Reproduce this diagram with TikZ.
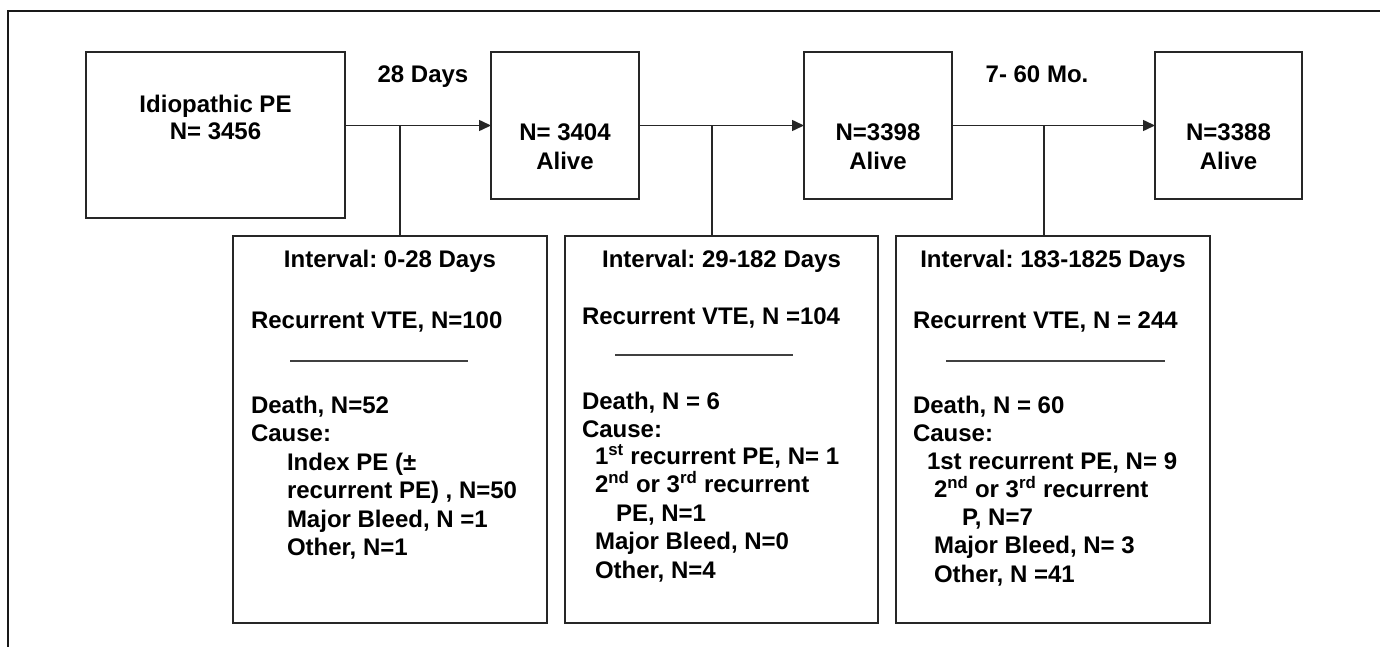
\documentclass[tikz,border=0pt]{standalone}
\usepackage{fontspec}
\setmainfont{Liberation Sans}
\usetikzlibrary{arrows.meta}
\begin{document}
\begin{tikzpicture}[x=1bp,y=-1bp,
  box/.style={draw=black!85,line width=1.6bp,inner sep=0,outer sep=0,minimum width=#1},
  conn/.style={draw=black!85,line width=1.5bp},
  arr/.style={conn,-{Triangle[length=12bp,width=11bp]}},
  txt/.style={inner sep=0,outer sep=0,anchor=base,font=\fontsize{24bp}{28bp}\selectfont\bfseries\frenchspacing},
  ltxt/.style={txt,anchor=base west},
  rulel/.style={draw=black!75,line width=1.8bp}]
\useasboundingbox (0,0) rectangle (1380,647);
% outer frame (only top and left visible)
\draw[line width=2bp,black!90] (1380,11.5) -- (8,11.5) -- (8,647);
% top boxes
\node[box=259bp,minimum height=166bp] (b1) at (215.5,135) {};
\node[box=148bp,minimum height=147bp] (b2) at (565,125.5) {};
\node[box=148bp,minimum height=147bp] (b3) at (878,125.5) {};
\node[box=147bp,minimum height=147bp] (b4) at (1228.5,125.5) {};
% lower boxes
\node[box=314bp,minimum height=387bp] (l1) at (390,429.5) {};
\node[box=313bp,minimum height=387bp] (l2) at (721.5,429.5) {};
\node[box=314bp,minimum height=387bp] (l3) at (1053,429.5) {};
% top texts
\node[txt] (b1a) at (215.5,113) {Idiopathic PE};
\node[txt] (b1b) at (215.5,140) {N= 3456};
\node[txt] (b2a) at (565,141) {N= 3404};
\node[txt] (b2b) at (565,170) {Alive};
\node[txt] (b3a) at (878,141) {N=3398};
\node[txt] (b3b) at (878,170) {Alive};
\node[txt] (b4a) at (1228.5,141) {N=3388};
\node[txt] (b4b) at (1228.5,170) {Alive};
\node[txt] (lab1) at (423,83) {28 Days};
\node[txt] (lab2) at (1037,83) {7- 60 Mo.};
% connectors
\coordinate (j1) at (400,125.5);
\coordinate (j2) at (712,125.5);
\coordinate (j3) at (1044,125.5);
\draw[arr] (b2.west -| b1.east) -- (b2.west);
\draw[arr] (b2.east) -- (b3.west);
\draw[arr] (b3.east) -- (b4.west);
\draw[conn] (j1) -- (j1 |- l1.north);
\draw[conn] (j2) -- (j2 |- l2.north);
\draw[conn] (j3) -- (j3 |- l3.north);
% lower box 1
\node[txt] (l1t) at (390,267) {Interval: 0-28 Days};
\node[ltxt] (l1a) at (251,328) {Recurrent VTE, N=100};
\draw[rulel] (290,361) -- (468,361);
\node[ltxt] (l1b) at (251,413) {Death, N=52};
\node[ltxt] (l1c) at (251,441) {Cause:};
\node[ltxt] (l1d) at (287,470) {Index PE (±};
\node[ltxt] (l1e) at (287,498) {recurrent PE) , N=50};
\node[ltxt] (l1f) at (287,527) {Major Bleed, N =1};
\node[ltxt] (l1g) at (287,555) {Other, N=1};
% lower box 2
\node[txt] (l2t) at (721.5,267) {Interval: 29-182 Days};
\node[ltxt] (l2a) at (582,324) {Recurrent VTE, N =104};
\draw[rulel] (615,355) -- (793,355);
\node[ltxt] (l2b) at (582,409) {Death, N = 6};
\node[ltxt] (l2c) at (582,437) {Cause:};
\node[ltxt] (l2d) at (595,464) {1\textsuperscript{st} recurrent PE, N= 1};
\node[ltxt] (l2e) at (595,492) {2\textsuperscript{nd} or 3\textsuperscript{rd} recurrent};
\node[ltxt] (l2f) at (616,521) {PE, N=1};
\node[ltxt] (l2g) at (595,549) {Major Bleed, N=0};
\node[ltxt] (l2h) at (595,578) {Other, N=4};
% lower box 3
\node[txt] (l3t) at (1053,267) {Interval: 183-1825 Days};
\node[ltxt] (l3a) at (913,328) {Recurrent VTE, N = 244};
\draw[rulel] (946,361) -- (1165,361);
\node[ltxt] (l3b) at (913,413) {Death, N = 60};
\node[ltxt] (l3c) at (913,441) {Cause:};
\node[ltxt] (l3d) at (927,469) {1st recurrent PE, N= 9};
\node[ltxt] (l3e) at (934,497) {2\textsuperscript{nd} or 3\textsuperscript{rd} recurrent};
\node[ltxt] (l3f) at (962,525) {P, N=7};
\node[ltxt] (l3g) at (934,553) {Major Bleed, N= 3};
\node[ltxt] (l3h) at (934,582) {Other, N =41};
\end{tikzpicture}
\end{document}
